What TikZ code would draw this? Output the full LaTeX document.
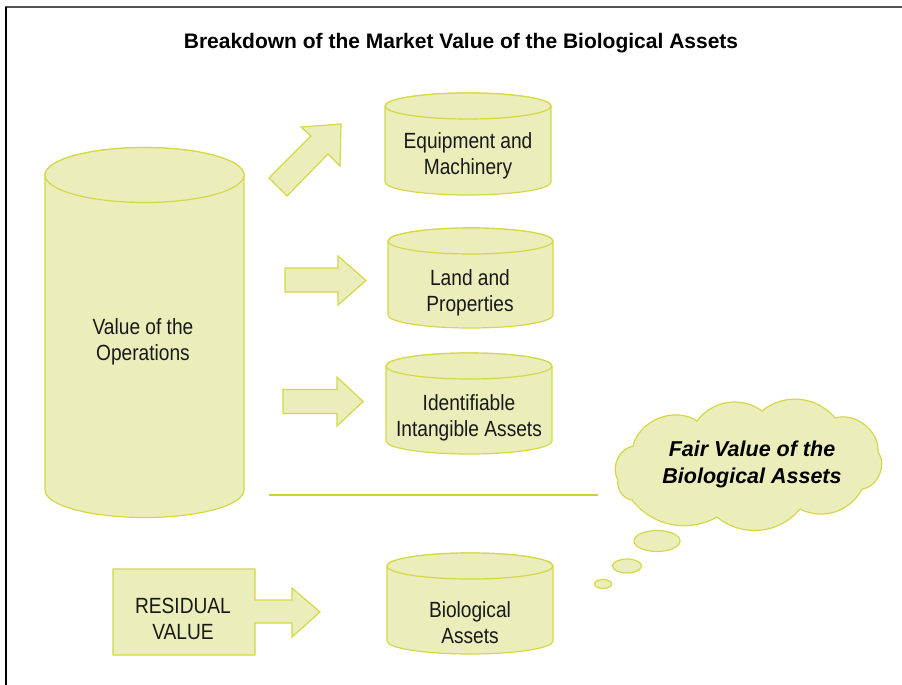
\documentclass[tikz,border=0pt]{standalone}
\usepackage{fontspec}
\setmainfont{Liberation Sans}
\newfontfamily\narrowfont[FakeStretch=0.87]{Liberation Sans}
\definecolor{drumfill}{HTML}{EBEDBB}
\definecolor{drumedge}{HTML}{D4D846}
\definecolor{ruleline}{HTML}{CDD12E}
\definecolor{framegray}{HTML}{555555}

% cylinder body: #1 left x, #2 right x, #3 top centre y, #4 bottom centre y, #5 y radius
\newcommand{\drumbody}[5]{%
  \pgfmathsetmacro{\drx}{(#2-#1)/2}%
  \pgfmathsetmacro{\dcx}{(#1+#2)/2}%
  \path[drumstyle] (#1,#3) -- (#1,#4)
    arc[start angle=180,end angle=360,x radius=\drx,y radius=#5]
    -- (#2,#3)
    arc[start angle=0,end angle=180,x radius=\drx,y radius=#5] -- cycle;
  \path[drumstyle] (\dcx,#3) ellipse[x radius=\drx,y radius=#5];
}

\begin{document}
\begin{tikzpicture}[x=1pt,y=1pt,
  drumstyle/.style={fill=drumfill,draw=drumedge,line width=1.2pt,line join=round},
  blockarrow/.style={fill=drumfill,draw=drumedge,line width=1.2pt,line join=miter},
  bodytext/.style={font=\narrowfont\fontsize{22}{26}\selectfont,align=center,text=black!90},
  cloudtext/.style={font=\bfseries\itshape\fontsize{21.5}{27}\selectfont,align=center,text=black},
  titletext/.style={font=\bfseries\fontsize{21}{25}\selectfont,text=black}]

\useasboundingbox (0,0) rectangle (902,-685);

% frame
\draw[framegray,line width=2pt] (5,-7.5) -- (902,-7.5);
\draw[black,line width=2pt] (6,-7) -- (6,-685);

% title
\node[titletext] (title) at (461,-43) {Breakdown of the Market Value of the Biological Assets};

% cylinders
\drumbody{45}{244}{-175}{-490}{27.5}
\drumbody{385}{551}{-106}{-182}{13}
\drumbody{388}{553}{-241}{-315}{13}
\drumbody{386}{552}{-366}{-441}{13}
\drumbody{387}{553}{-566}{-641}{13}

\node[bodytext] (ops) at (143,-342) {Value of the\\Operations};
\node[bodytext] (equip) at (468,-156) {Equipment and\\Machinery};
\node[bodytext] (land) at (470,-292.5) {Land and\\Properties};
\node[bodytext] (intang) at (469,-418) {Identifiable\\Intangible Assets};
\node[bodytext] (bio) at (470,-623) {Biological\\Assets};

% block arrows
\path[blockarrow] (269,-178) -- (311,-136) -- (301,-127) -- (341,-124)
  -- (340,-166) -- (328,-154) -- (287,-196) -- cycle;
\path[blockarrow] (285,-268) -- (338,-268) -- (338,-256) -- (366,-280.5)
  -- (338,-305) -- (338,-292) -- (285,-292) -- cycle;
\path[blockarrow] (283,-389.5) -- (337,-389.5) -- (337,-377) -- (363,-401.5)
  -- (337,-426) -- (337,-413.5) -- (283,-413.5) -- cycle;

% residual value box with its arrow
\path[blockarrow] (113,-569) -- (255,-569) -- (255,-600) -- (292,-600)
  -- (292,-588) -- (320,-612) -- (292,-637) -- (292,-623) -- (255,-623)
  -- (255,-655) -- (113,-655) -- cycle;
\node[bodytext] (resid) at (183,-618.5) {RESIDUAL\\VALUE};

% separating rule
\coordinate (ruleL) at (269,-495);
\coordinate (ruleR) at (598,-495);
\draw[ruleline,line width=2pt] (ruleL) -- (ruleR);

% thought cloud
\path[fill=drumfill,draw=drumedge,line width=1.2pt,line join=round]
  (633,-446) to[bend left=55] (697,-421)
  to[bend left=45] (762,-411)
  to[bend left=45] (835,-418)
  to[bend left=55] (878,-452)
  to[bend left=60] (862,-489)
  to[bend left=45] (800,-509)
  to[bend left=45] (717,-517)
  to[bend left=40] (632,-500)
  to[bend left=45] (618,-480)
  to[bend left=55] cycle;
\node[cloudtext] (fair) at (752,-464.5) {Fair Value of the\\Biological Assets};

\path[drumstyle] (657,-541) ellipse[x radius=23,y radius=10.5];
\path[drumstyle] (627,-566) ellipse[x radius=14.5,y radius=7];
\path[drumstyle] (603,-584) ellipse[x radius=8.5,y radius=4.5];

\end{tikzpicture}
\end{document}
